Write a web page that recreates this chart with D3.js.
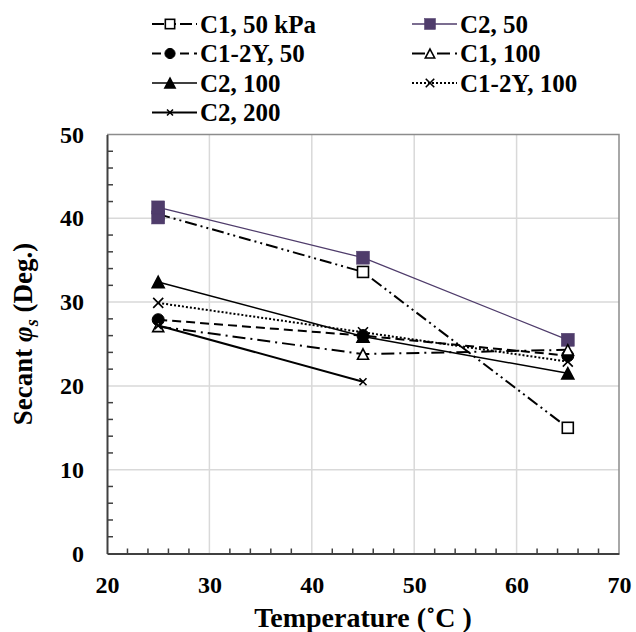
<!DOCTYPE html>
<html><head><meta charset="utf-8">
<script src="https://cdn.jsdelivr.net/npm/d3@7"></script>
<style>
body{margin:0;background:#fff}
svg text, svg tspan{font-family:"Liberation Serif", "Times New Roman", serif !important;font-weight:bold !important}
</style>
</head><body>
<svg id="chart" width="636" height="632" font-family="Liberation Serif" font-weight="bold"></svg>
<script>
// ---- data ----
const xTicks = [20, 30, 40, 50, 60, 70];
const yTicks = [0, 10, 20, 30, 40, 50];
const seriesNames = ["C1, 50 kPa", "C2, 50", "C1-2Y, 50", "C1, 100", "C2, 100", "C1-2Y, 100", "C2, 200"];
const c1_50_x = [25, 45, 65];       const c1_50_y = [40.5, 33.6, 15.0];
const c2_50_x = [25, 25, 45, 65];   const c2_50_y = [40.1, 41.3, 35.3, 25.5];
const c12y_50_x = [25, 45, 65];     const c12y_50_y = [27.9, 26.0, 23.6];
const c1_100_x = [25, 45, 65];      const c1_100_y = [27.1, 23.8, 24.3];
const c2_100_x = [25, 45, 65];      const c2_100_y = [32.4, 25.9, 21.5];
const c12y_100_x = [25, 45, 65];    const c12y_100_y = [29.9, 26.4, 22.9];
const c2_200_x = [25, 45];          const c2_200_y = [27.2, 20.5];

// ---- styles ----
const FONT = "\"Liberation Serif\"";
const purple = "#4f3c6b";
const styles = [
  {x: c1_50_x, y: c1_50_y, color: "#000", width: 2, dash: "12,4,2,4,2,4", marker: "square", fill: "#fff", size: 11},
  {x: c2_50_x, y: c2_50_y, color: purple, width: 1.3, dash: null, marker: "square", fill: purple, size: 13},
  {x: c12y_50_x, y: c12y_50_y, color: "#000", width: 2, dash: "9,5", marker: "circle", fill: "#000", size: 12},
  {x: c1_100_x, y: c1_100_y, color: "#000", width: 2, dash: "13,5,2,5", marker: "triangle", fill: "#fff", size: 11},
  {x: c2_100_x, y: c2_100_y, color: "#000", width: 1.5, dash: null, marker: "triangle", fill: "#000", size: 12},
  {x: c12y_100_x, y: c12y_100_y, color: "#000", width: 2, dash: "2,2", marker: "cross", fill: "none", size: 10},
  {x: c2_200_x, y: c2_200_y, color: "#000", width: 2, dash: null, marker: "cross", fill: "none", size: 7}
];

const svg = d3.select("#chart");
const L = 107, T = 134.5, W = 512, H = 419;
const x = d3.scaleLinear().domain([20, 70]).range([L, L + W]);
const y = d3.scaleLinear().domain([0, 50]).range([T + H, T]);

function styleText(sel, size) {
  sel.attr("font-family", "Liberation Serif")
     .style("font-family", FONT, "important").style("font-weight", "bold", "important")
     .style("font-size", size + "px");
  return sel;
}

// grid
svg.append("g").selectAll("line").data(yTicks.filter(d => d > 0 && d < 50)).join("line")
  .attr("x1", L).attr("x2", L + W).attr("y1", d => y(d)).attr("y2", d => y(d))
  .attr("stroke", "#d9d9d9").attr("stroke-width", 1.5);
svg.append("g").selectAll("line").data(xTicks.filter(d => d > 20 && d < 70)).join("line")
  .attr("y1", T).attr("y2", T + H).attr("x1", d => x(d)).attr("x2", d => x(d))
  .attr("stroke", "#d9d9d9").attr("stroke-width", 1.5);

// frame top/right
svg.append("path").attr("d", `M${L},${T}H${L + W}V${T + H}`).attr("fill", "none").attr("stroke", "#8c8c8c").attr("stroke-width", 1.5);

// axes
const xAxis = d3.axisBottom(x).tickValues(xTicks).tickSize(0).tickPadding(22).tickFormat(d3.format("d"));
const gx = svg.append("g").attr("transform", `translate(0,${T + H})`).call(xAxis);
gx.attr("font-family", "Liberation Serif").attr("font-size", 24).attr("font-weight", "bold");
gx.select(".domain").attr("stroke", "#404040").attr("stroke-width", 2);
gx.selectAll("text").attr("fill", "#000");
styleText(gx.selectAll("text"), 24);
const xMinor = d3.range(22, 70, 2).filter(d => d % 10 !== 0);
svg.append("g").selectAll("line").data(xMinor).join("line")
  .attr("x1", d => x(d)).attr("x2", d => x(d)).attr("y1", T + H).attr("y2", T + H - 5)
  .attr("stroke", "#404040").attr("stroke-width", 1.5);

const yAxis = d3.axisLeft(y).tickValues(yTicks).tickSize(0).tickPadding(23).tickFormat(d3.format("d"));
const gy = svg.append("g").attr("transform", `translate(${L},0)`).call(yAxis);
gy.attr("font-family", "Liberation Serif").attr("font-size", 24).attr("font-weight", "bold");
gy.select(".domain").attr("stroke", "#404040").attr("stroke-width", 2);
gy.selectAll("text").attr("fill", "#000");
styleText(gy.selectAll("text"), 24);
const yMinor = d3.range(2, 50, 2).filter(d => d % 10 !== 0);
svg.append("g").selectAll("line").data(yMinor).join("line")
  .attr("y1", d => y(d)).attr("y2", d => y(d)).attr("x1", L).attr("x2", L + 6)
  .attr("stroke", "#404040").attr("stroke-width", 1.5);

// titles
styleText(svg.append("text").attr("x", L + W / 2).attr("y", 627).attr("text-anchor", "middle"), 28)
  .text("Temperature (˚C )");
const yt = styleText(svg.append("text").attr("transform", `translate(32,${T + H / 2 - 10}) rotate(-90)`)
  .attr("text-anchor", "middle"), 27);
yt.append("tspan").text("Secant ");
yt.append("tspan").style("font-style", "italic").text("φ");
yt.append("tspan").style("font-style", "italic").attr("dy", 6).style("font-size", "18px").text("s");
yt.append("tspan").attr("dy", -6).text(" (Deg.)");

// markers
function drawMarker(g, type, cx, cy, s, color, fill) {
  if (type === "square") {
    g.append("rect").attr("x", cx - s / 2).attr("y", cy - s / 2).attr("width", s).attr("height", s)
      .attr("fill", fill).attr("stroke", fill === "#fff" ? "#000" : color).attr("stroke-width", fill === "#fff" ? 1.6 : 0.5);
  } else if (type === "circle") {
    g.append("circle").attr("cx", cx).attr("cy", cy).attr("r", s / 2).attr("fill", fill).attr("stroke", "#000");
  } else if (type === "triangle") {
    const h = s * 0.95;
    g.append("path").attr("d", `M${cx},${cy - h / 2}L${cx + s / 2},${cy + h / 2}L${cx - s / 2},${cy + h / 2}Z`)
      .attr("fill", fill).attr("stroke", "#000").attr("stroke-width", 1.6);
  } else if (type === "cross") {
    const r = s / 2;
    g.append("path").attr("d", `M${cx - r},${cy - r}L${cx + r},${cy + r}M${cx - r},${cy + r}L${cx + r},${cy - r}`)
      .attr("stroke", "#000").attr("stroke-width", 1.6).attr("fill", "none");
  }
}

const line = d3.line().x(d => x(d[0])).y(d => y(d[1]));
styles.forEach(s => {
  const pts = s.x.map((v, i) => [v, s.y[i]]);
  const g = svg.append("g");
  g.append("path").datum(pts).attr("d", line).attr("fill", "none").attr("stroke", s.color)
    .attr("stroke-width", s.width).attr("stroke-dasharray", s.dash);
  pts.forEach(p => drawMarker(g, s.marker, x(p[0]), y(p[1]), s.size, s.color, s.fill));
});

// legend
const legCols = [152, 412], legRows = [24, 53.5, 83, 112.5];
seriesNames.forEach((name, i) => {
  const s = styles[i];
  const lx = legCols[i % 2], ly = legRows[Math.floor(i / 2)];
  const g = svg.append("g");
  g.append("line").attr("x1", lx).attr("x2", lx + 45).attr("y1", ly).attr("y2", ly)
    .attr("stroke", s.color).attr("stroke-width", s.width).attr("stroke-dasharray", s.dash);
  drawMarker(g, s.marker, lx + 18, ly, s.size * 0.85, s.color, s.fill);
  styleText(g.append("text").attr("x", lx + 48).attr("y", ly).attr("dy", "0.35em"), 25).text(name);
});
</script>
</body></html>
